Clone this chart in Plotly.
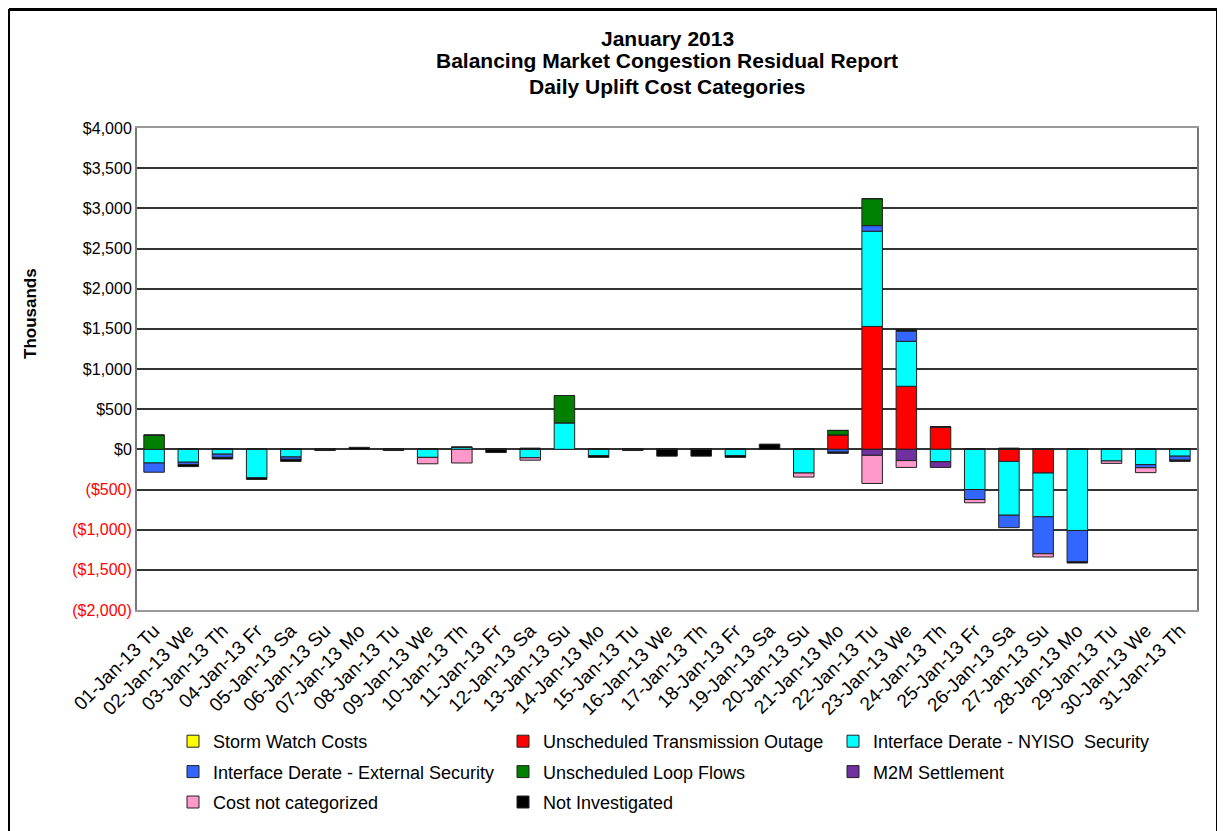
import plotly.graph_objects as go

# Daily uplift cost categories, January 2013 ($ thousands)
days = ["01-Jan-13 Tu", "02-Jan-13 We", "03-Jan-13 Th", "04-Jan-13 Fr", "05-Jan-13 Sa",
        "06-Jan-13 Su", "07-Jan-13 Mo", "08-Jan-13 Tu", "09-Jan-13 We", "10-Jan-13 Th",
        "11-Jan-13 Fr", "12-Jan-13 Sa", "13-Jan-13 Su", "14-Jan-13 Mo", "15-Jan-13 Tu",
        "16-Jan-13 We", "17-Jan-13 Th", "18-Jan-13 Fr", "19-Jan-13 Sa", "20-Jan-13 Su",
        "21-Jan-13 Mo", "22-Jan-13 Tu", "23-Jan-13 We", "24-Jan-13 Th", "25-Jan-13 Fr",
        "26-Jan-13 Sa", "27-Jan-13 Su", "28-Jan-13 Mo", "29-Jan-13 Tu", "30-Jan-13 We",
        "31-Jan-13 Th"]

storm_watch = [0] * 31
trans_outage = [0, 0, 0, 0, 0, 0, 0, 0, 0, 0, 0, 0, 0, 0, 0, 0, 0, 0, 0, 0,
                180, 1530, 785, 280, 0, -150, -295, 0, 0, 0, 0]
nyiso_security = [-170, -160, -60, -355, -95, 0, 0, 0, -100, 25, 0, -105, 330, -80, 0, 0, 0, -80, 0, -295,
                  0, 1185, 560, -155, -500, -670, -545, -1010, -145, -190, -85]
external_security = [-115, -30, -40, 0, -30, 0, 0, 0, 0, 0, 0, 0, 0, 0, 0, 0, 0, 0, 0, 0,
                     -35, 70, 130, 0, -125, -155, -460, -390, 0, -40, -50]
loop_flows = [175, 0, 0, 0, 0, 0, 0, 0, 0, 0, 0, 0, 340, 0, 0, 0, 0, 0, 0, 0,
              55, 335, 0, 0, 0, 0, 0, 0, 0, 0, 0]
m2m = [0, 0, 0, 0, 0, 0, 0, 0, 0, 0, 0, 0, 0, 0, 0, 0, 0, 0, 0, 0,
       0, -75, -140, -70, 0, 0, 0, 0, 0, 0, 0]
not_categorized = [0, 0, 0, 0, 0, 0, 0, 0, -80, -170, 0, -30, 0, 0, 0, 0, 0, 0, 0, -50,
                   0, -350, -85, 0, -40, 0, -40, 0, -30, -60, 0]
not_investigated = [0, -25, -20, -20, -25, -15, 25, -15, 0, 0, -40, 15, 0, -20, -15, -85, -85, -20, 65, 0,
                    -15, 0, 20, 0, 0, 15, 0, -15, 0, 0, -15]

# name, values, colour, legend column
series = [
    ("Storm Watch Costs", storm_watch, "#FFFF00", "legend"),
    ("Unscheduled Transmission Outage", trans_outage, "#FF0000", "legend2"),
    ("Interface Derate - NYISO  Security", nyiso_security, "#00FFFF", "legend3"),
    ("Interface Derate - External Security", external_security, "#3366FF", "legend"),
    ("Unscheduled Loop Flows", loop_flows, "#008000", "legend2"),
    ("M2M Settlement", m2m, "#7030A0", "legend3"),
    ("Cost not categorized", not_categorized, "#FF99CC", "legend"),
    ("Not Investigated", not_investigated, "#000000", "legend2"),
]

title_lines = ["January 2013", "Balancing Market Congestion Residual Report", "Daily Uplift Cost Categories"]

tick_vals = [4000, 3500, 3000, 2500, 2000, 1500, 1000, 500, 0, -500, -1000, -1500, -2000]
tick_text = ["$4,000", "$3,500", "$3,000", "$2,500", "$2,000", "$1,500", "$1,000", "$500", "$0",
             "($500)", "($1,000)", "($1,500)", "($2,000)"]

fig = go.Figure()
for name, vals, color, leg in series:
    fig.add_trace(go.Bar(
        x=days, y=vals, name=name, legend=leg, legendgroup=name,
        marker=dict(color=color, line=dict(color="#222222", width=1)),
    ))

# page has an 8px body margin, so the figure is sized to fit the window
W, H = 1217, 823
L, R, T, B = 129, 28, 120, 221
pw, ph = W - L - R, H - T - B
px = lambda v: (v - L) / pw
py = lambda v: (H - B - v) / ph

ticks_colored = [t if v >= 0 else f'<span style="color:#FF0000">{t}</span>'
                 for t, v in zip(tick_text, tick_vals)]

legend_style = dict(
    orientation="v", xanchor="left", yref="container", y=1 - 715 / H, yanchor="top",
    font=dict(size=18), tracegroupgap=4, bgcolor="rgba(0,0,0,0)",
)

annotations = [dict(
    text=f"<b>{line}</b>", x=0.5, y=py(yc), xref="paper", yref="paper",
    xanchor="center", yanchor="middle", showarrow=False,
    font=dict(size=21, family="Liberation Sans, Arial"),
) for line, yc in zip(title_lines, [30, 52, 78])]
annotations.append(dict(
    text="<b>Thousands</b>", x=px(22), y=py(306), xref="paper", yref="paper",
    xanchor="center", yanchor="middle", textangle=-90, showarrow=False, font=dict(size=17),
))

fig.update_layout(
    barmode="relative",
    bargap=0.4,
    width=W, height=H,
    margin=dict(l=L, r=R, t=T, b=B, autoexpand=False),
    paper_bgcolor="white",
    plot_bgcolor="white",
    font=dict(family="Liberation Sans, Arial", size=16, color="black"),
    xaxis=dict(
        tickangle=-45, showgrid=False, ticks="", tickfont=dict(size=19), automargin=False,
        showline=True, linecolor="#999999", linewidth=2, mirror=True,
    ),
    yaxis=dict(
        range=[-2000, 4000], tickvals=tick_vals, ticktext=ticks_colored, automargin=False,
        showgrid=True, gridcolor="#333333", gridwidth=1.5,
        zeroline=True, zerolinecolor="#333333", zerolinewidth=1.5,
        showline=True, linecolor="#777777", linewidth=2, mirror=True,
        ticks="", tickfont=dict(size=16),
    ),
    legend=dict(x=px(165), **legend_style),
    legend2=dict(x=px(495), **legend_style),
    legend3=dict(x=px(825), **legend_style),
    annotations=annotations,
    shapes=[
        dict(type="line", xref="paper", yref="paper", x0=px(1), x1=px(1209), y0=py(1.5), y1=py(1.5),
             line=dict(color="black", width=3)),
        dict(type="line", xref="paper", yref="paper", x0=px(1), x1=px(1), y0=py(1), y1=py(H + 5),
             line=dict(color="black", width=2)),
        dict(type="line", xref="paper", yref="paper", x0=px(1209), x1=px(1209), y0=py(1), y1=py(H + 5),
             line=dict(color="black", width=2)),
    ],
)

fig.write_html("out.html")
